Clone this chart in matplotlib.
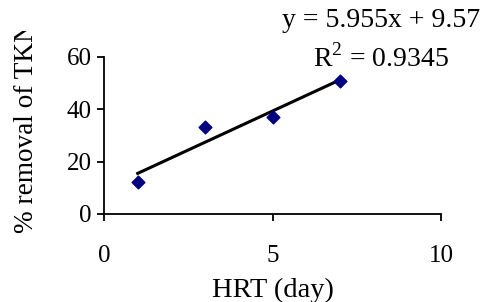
import numpy as np
import matplotlib.pyplot as plt
from matplotlib.transforms import Bbox

hrt = [1, 3, 5, 7]
removal = [12.3, 33.3, 37.2, 50.8]
slope = 5.955
intercept = 9.57
r2 = 0.9345
xticks = [0, 5, 10]
yticks = [0, 20, 40, 60]

plt.rcParams['font.family'] = ['Liberation Serif', 'DejaVu Serif']
plt.rcParams['mathtext.fontset'] = 'custom'
plt.rcParams['mathtext.rm'] = 'Liberation Serif'
fs = 18
fs_lab = 20.5

fig = plt.figure(figsize=(4.8, 3.02), dpi=100)
ax = fig.add_axes([0.2167, 0.2914, 0.7021, 0.5199])

ax.scatter(hrt, removal, marker='D', s=42, color='#000080', zorder=3)
xf = np.array([hrt[0], hrt[-1]])
ax.plot(xf, slope * xf + intercept, color='black', lw=2.2, zorder=2)

ax.set_xlim(0, 10)
ax.set_ylim(0, 60)
ax.set_xticks(xticks)
ax.set_yticks(yticks)
ax.spines['top'].set_visible(False)
ax.spines['right'].set_visible(False)
for s in ['left', 'bottom']:
    ax.spines[s].set_linewidth(1.3)
ax.tick_params(direction='out', length=5, width=1.3, labelsize=fs, pad=4)
ax.tick_params(axis='x', pad=17)

ax.set_xlabel('HRT (day)', fontsize=fs_lab, labelpad=8)

# y label is cut off at the top in the original
ylab = fig.text(0.056, 0.228, '% removal of TKN', rotation=90, fontsize=19.6,
                ha='center', va='bottom')
ylab.set_clip_box(Bbox.from_extents(0, 0, 480, 302 - 31))
ylab.set_clip_on(True)

fig.text(0.588, 0.9106, f'y = {slope}x + {intercept}', fontsize=20, va='baseline')
fig.text(0.652, 0.778, r'R$^{2}$ = ' + f'{r2}', fontsize=20, va='baseline')

fig.savefig('out.png', dpi=100)
